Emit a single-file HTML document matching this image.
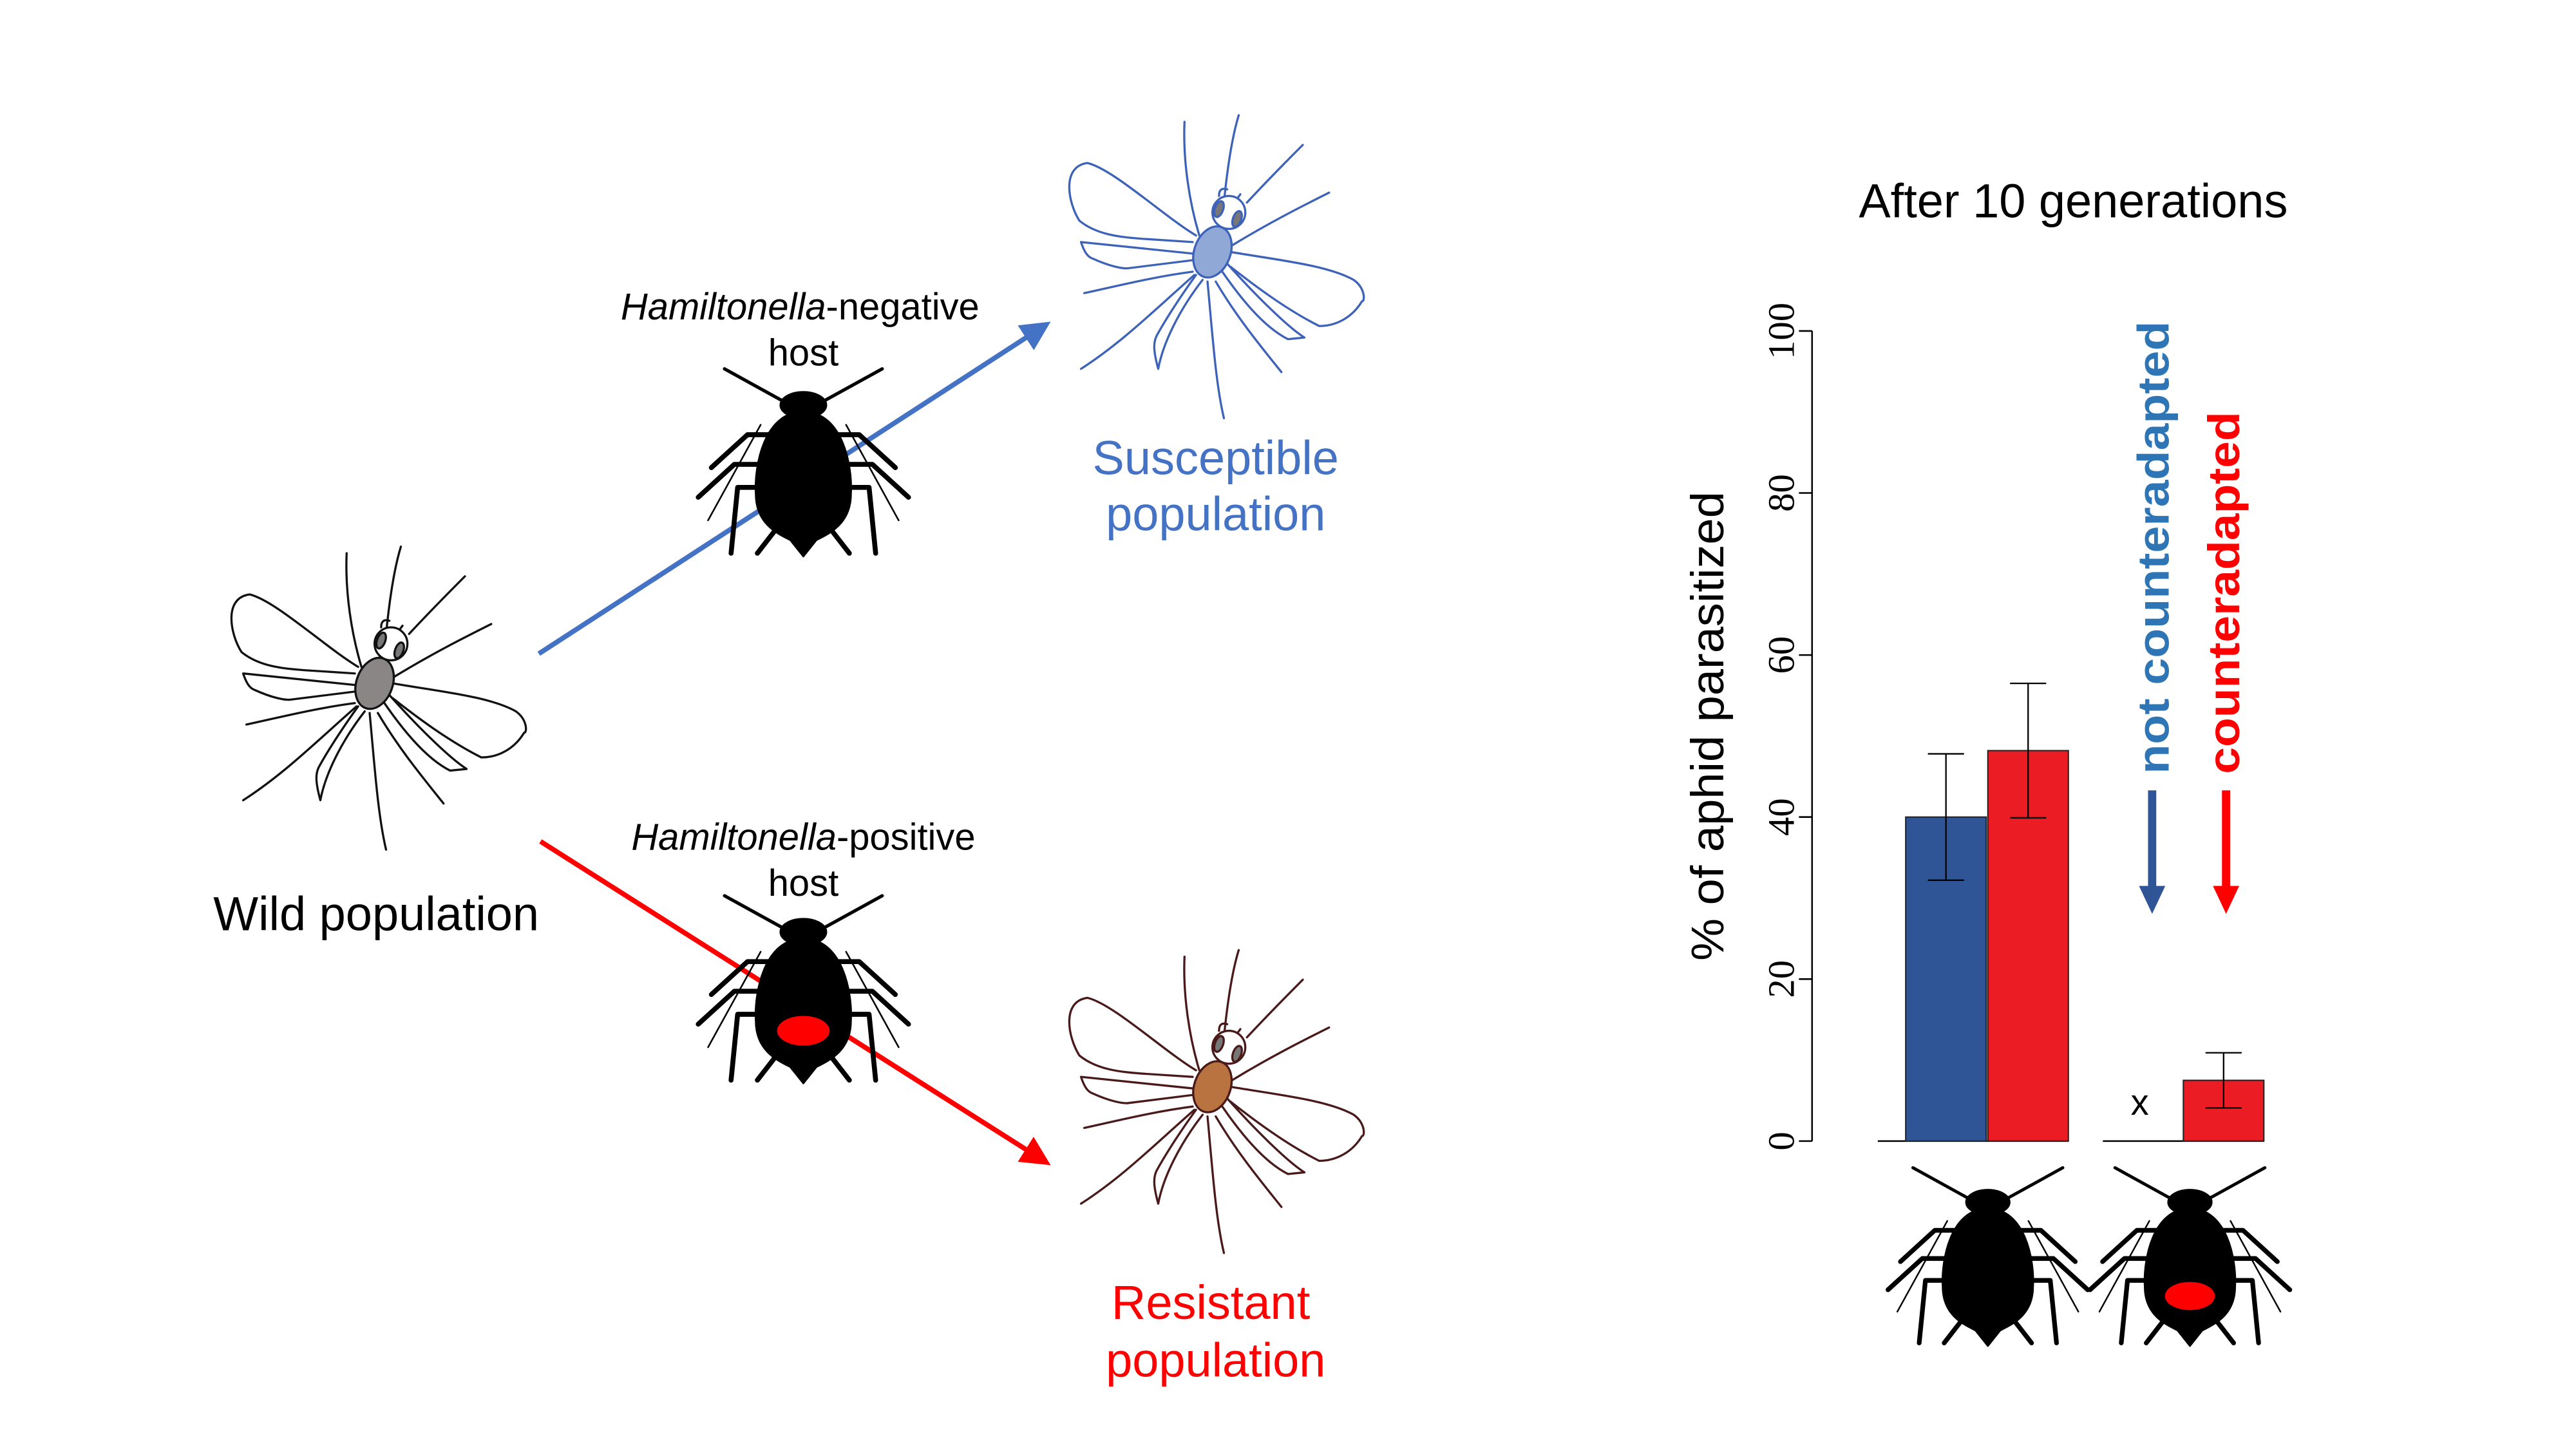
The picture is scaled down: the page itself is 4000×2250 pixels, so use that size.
<!DOCTYPE html>
<html><head><meta charset="utf-8"><style>
html,body{margin:0;padding:0;background:#fff;}
svg{display:block;}
text{font-family:"Liberation Sans",sans-serif;}
</style></head><body>
<svg id="root" width="4000" height="2250" viewBox="0 0 1568 880" preserveAspectRatio="none" xmlns="http://www.w3.org/2000/svg">
<defs>
<marker id="ahB" markerWidth="6" markerHeight="6" refX="5" refY="3" orient="auto" markerUnits="strokeWidth"><path d="M0,0 L6,3 L0,6 Z" fill="#4472c4"/></marker>
<marker id="ahR" markerWidth="6" markerHeight="6" refX="5" refY="3" orient="auto" markerUnits="strokeWidth"><path d="M0,0 L6,3 L0,6 Z" fill="#ff0000"/></marker>
</defs>
<line x1="328" y1="397" x2="637" y2="197" stroke="#4472c4" stroke-width="3" marker-end="url(#ahB)"/>
<line x1="329" y1="511" x2="637" y2="706" stroke="#ff0000" stroke-width="3" marker-end="url(#ahR)"/>
<g id="flies"></g>
<g id="aphids"></g>
<text x="487" y="194" font-size="22.7" text-anchor="middle"><tspan font-style="italic">Hamiltonella</tspan>-negative</text>
<text x="489" y="222" font-size="22.7" text-anchor="middle">host</text>
<text x="489" y="516" font-size="22.7" text-anchor="middle"><tspan font-style="italic">Hamiltonella</tspan>-positive</text>
<text x="489" y="544" font-size="22.7" text-anchor="middle">host</text>
<text x="229" y="565" font-size="29" text-anchor="middle">Wild population</text>
<text x="740" y="288" font-size="29" fill="#4472c4" text-anchor="middle">Susceptible</text>
<text x="740" y="322" font-size="29" fill="#4472c4" text-anchor="middle">population</text>
<text x="737" y="801" font-size="29" fill="#ff0000" text-anchor="middle">Resistant</text>
<text x="740" y="836" font-size="29" fill="#ff0000" text-anchor="middle">population</text>
<text x="1262" y="132" font-size="29" text-anchor="middle">After 10 generations</text>
<text transform="translate(1049,441) rotate(-90)" font-size="28" text-anchor="middle" textLength="285" lengthAdjust="spacingAndGlyphs">% of aphid parasitized</text>
<text transform="translate(1320,470) rotate(-90)" font-size="27" font-weight="bold" fill="#2e75b6" textLength="275" lengthAdjust="spacingAndGlyphs">not counteradapted</text>
<text transform="translate(1363,470) rotate(-90)" font-size="27" font-weight="bold" fill="#ff0000" textLength="220" lengthAdjust="spacingAndGlyphs">counteradapted</text>
<g><rect x="1307.5" y="480" width="5" height="60" fill="#2f5597"/><path d="M1302,538 L1318,538 L1310,555 Z" fill="#2f5597"/></g>
<g><rect x="1352.5" y="480" width="5" height="60" fill="#ff0000"/><path d="M1347,538 L1363,538 L1355,555 Z" fill="#ff0000"/></g>
<g id="chart"></g>
</svg>
<script>
const categories = ["neg-not","pos-not","neg-counter","pos-counter"];
const values = [40, 48.2, 0, 7.5];
const errors = [7.8, 8.3, 0, 3.4];
const tickValues = [0,20,40,60,80,100];
const tickLabels = ["0","20","40","60","80","100"];
const NS="http://www.w3.org/2000/svg";
function el(tag, attrs, parent){const e=document.createElementNS(NS,tag);for(const k in attrs)e.setAttribute(k,attrs[k]);parent.appendChild(e);return e;}
const yS = v => 693 - v*4.92;
const barLeft = [1160, 1210, 1280, 1329];
const barColors = ["#2f5597","#ec1c24","#ec1c24","#ec1c24"];
const barW = 49;
const chart = document.getElementById('chart');
const axis = el('line',{x1:1103,y1:yS(0),x2:1103,y2:yS(100),stroke:'#000','stroke-width':1},chart);


tickValues.forEach((v,i)=>{
  const t=el('line',{x1:1095,y1:yS(v),x2:1103,y2:yS(v),stroke:'#000','stroke-width':1},chart);
  
  
  const tx=el('text',{transform:`translate(1092,${yS(v)}) rotate(-90)`,'font-size':23,'text-anchor':'middle',style:'font-family:"Liberation Serif",serif'},chart);
  tx.textContent=tickLabels[i];
  
  
});
const b1=el('line',{x1:1143,y1:yS(0),x2:1259,y2:yS(0),stroke:'#000','stroke-width':1},chart);


const b2=el('line',{x1:1280,y1:yS(0),x2:1378,y2:yS(0),stroke:'#000','stroke-width':1},chart);


values.forEach((v,i)=>{
  if(v>0){
    const r=el('rect',{x:barLeft[i],y:yS(v),width:barW,height:yS(0)-yS(v),fill:barColors[i],stroke:'#222','stroke-width':0.8},chart);
    
    
    const cx=barLeft[i]+barW/2, e=errors[i];
    const eb=el('path',{d:`M${cx},${yS(v+e)}V${yS(v-e)}M${cx-11},${yS(v+e)}H${cx+11}M${cx-11},${yS(v-e)}H${cx+11}`,stroke:'#000','stroke-width':0.9,fill:'none'},chart);
    
    
  } else {
    const x=el('text',{x:barLeft[i]+barW/2-2,y:yS(v)-16,'font-size':22,'text-anchor':'middle'},chart);
    x.textContent='x';
    
    
  }
});

// flies
const flies=document.getElementById('flies');
function fly(cx,cy,stroke,fill,name){
  const g=el('g',{transform:`translate(${cx},${cy})`,fill:'none',stroke:stroke,'stroke-width':1.3,'stroke-linejoin':'round','stroke-linecap':'round'},flies);
  
  
  const paths=[
   "M-10,-10 C-30,-22 -60,-50 -76,-54 C-92,-52 -88,-30 -81,-19 C-70,-10 -55,-9 -43,-8 L-12,-6",
   "M-12,1 L-80,-6 C-78,0 -76,3 -73,4 C-62,9 -55,10 -52,10 L-12,5",
   "M11,0 C40,5 70,8 86,17 C93,22 93,30 91,30 C85,40 75,45 65,45 C45,35 25,20 11,9",
   "M8,6 C25,25 45,45 56,52 L46,53 C30,45 15,25 6,12",
   "M-6,17 C-20,35 -30,55 -33,71 C-36,60 -36,55 -34,51 C-28,40 -18,25 -10,14",
   "M-8,-10 C-14,-30 -18,-55 -17,-79",
   "M7,-30 C9,-50 12,-70 16,-83",
   "M21,-30 C35,-45 45,-55 55,-65",
   "M12,-4 C35,-18 55,-28 71,-36",
   "M-12,12 C-35,15 -55,20 -78,25",
   "M-11,14 C-35,35 -55,55 -80,71",
   "M-3,18 C0,50 2,80 7,101",
   "M2,18 C15,40 30,58 42,73",
   "M4,-34 C4,-38 6,-39 9,-38",
   "M14,-31 L17,-35"
  ];
  paths.forEach(d=>el('path',{d:d},g));
  el('circle',{cx:10,cy:-24,r:10,fill:'#fff'},g);
  el('ellipse',{cx:4,cy:-26,rx:2.5,ry:5,fill:'#777',transform:'rotate(20 4 -26)'},g);
  el('ellipse',{cx:15,cy:-20,rx:2.5,ry:5,fill:'#777',transform:'rotate(20 15 -20)'},g);
  el('ellipse',{cx:0,cy:0,rx:11,ry:16,fill:fill,transform:'rotate(20)'},g);
}
fly(228,415,'#111','#8a8685','wild-fly');
fly(738,153,'#3d62b8','#8fa8d6','susceptible-fly');
fly(738,660,'#4a1a1a','#b87340','resistant-fly');

// aphids
const aph=document.getElementById('aphids');
function aphid(cx,cy,s,spot,name){
  const g=el('g',{transform:`translate(${cx},${cy}) scale(${s})`,stroke:'#000','stroke-linecap':'round','stroke-linejoin':'round',fill:'none'},aph);
  
  
  for(const m of [-1,1]){
    el('path',{d:`M${m*8},-42 L${m*48},-64`,'stroke-width':2},g);
    el('path',{d:`M${m*18},-24 L${m*34},-24 L${m*56},-4`,'stroke-width':3},g);
    el('path',{d:`M${m*22},-6 L${m*42},-6 L${m*64},14`,'stroke-width':3},g);
    el('path',{d:`M${m*22},8 L${m*40},8 L${m*44},48`,'stroke-width':3},g);
    el('path',{d:`M${m*26},-30 L${m*58},28`,'stroke-width':1},g);
    el('path',{d:`M${m*14},30 L${m*28},48`,'stroke-width':3},g);
  }
  el('path',{d:"M0,-38 C24,-38 30,-5 29,12 C29,30 16,36 8,40 L0,50 L-8,40 C-16,36 -29,30 -29,12 C-30,-5 -24,-38 0,-38 Z",fill:'#000','stroke-width':1},g);
  el('ellipse',{cx:0,cy:-42,rx:14,ry:8,fill:'#000','stroke-width':1},g);
  if(spot) el('ellipse',{cx:0,cy:18,rx:16,ry:9,fill:'#ff0000',stroke:'none'},g);
}
aphid(489,288,1,false,'negative-host-aphid');
aphid(489,608,1,true,'positive-host-aphid');
aphid(1210,770,0.95,false,'chart-negative-aphid');
aphid(1333,770,0.95,true,'chart-positive-aphid');
</script>
</body></html>
